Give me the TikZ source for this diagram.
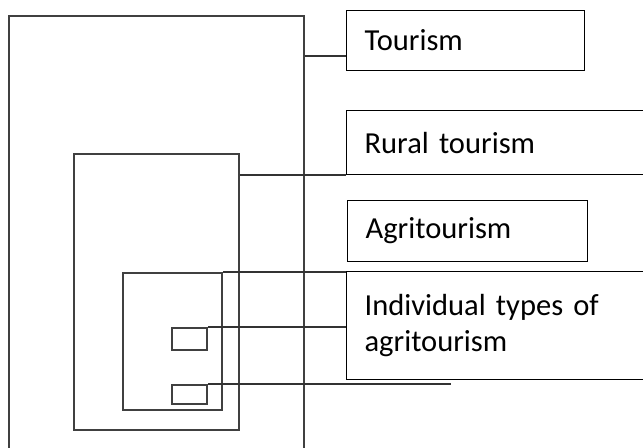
\documentclass[tikz,border=0pt]{standalone}
\usepackage{fontspec}
\setmainfont{Carlito}
\usetikzlibrary{fit,calc}
\newcommand{\boxfont}{\fontsize{22.9}{27}\selectfont\spaceskip=0.17em plus 0.05em\relax}

\begin{document}
\begin{tikzpicture}[x=0.75pt,y=-0.75pt]
	% `frame' is used for the nested rectangles.
	% `labelbox' is used for the text boxes on the right.
	\tikzstyle{frame} = [draw=black!75,line width=1.2pt,inner sep=0pt]
	\tikzstyle{labelbox} = [draw,line width=0.9pt,anchor=north west,inner xsep=13.5pt,inner ysep=0pt,align=left,minimum height=45pt,font=\boxfont]
	\tikzstyle{link} = [draw=black!80,line width=1.3pt]
	%
	\clip (0,0) rectangle (643,447);
	% Nested rectangles.
	\node[frame,fit={(9,16) (304,470)}] (outer) {};
	\node[frame,fit={(74,154) (239,430)}] (rural frame) {};
	\node[frame,fit={(123,273) (222,410)}] (agri frame) {};
	\node[frame,fit={(172,328) (207,350)}] (type1) {};
	\node[frame,fit={(172,385) (207,404)}] (type2) {};
	% Text boxes.
	\node[labelbox,text width=151.5pt] (tourism) at (346,10) {Tourism};
	\node[labelbox,text width=205.5pt,minimum height=48pt] (rural) at (346,110) {Rural tourism};
	\node[labelbox,text width=153pt,minimum height=45.75pt] (agri) at (347,200) {Agritourism};
	\node[labelbox,text width=205.5pt,minimum height=81pt] (types) at (346,271) {Individual types of\\agritourism};
	\coordinate (tail) at (451,385);
	% Lines.
	\coordinate (tourism in) at ($(tourism.south west)!0.25!(tourism.north west)$);
	\draw[link] (outer.east |- tourism in) -- (tourism in);
	\draw[link] (rural frame.east |- rural.south west) -- (rural.south west);
	\draw[link] (agri frame.north east) -- (agri frame.north east -| types.west);
	\draw[link] (type1.north east) -- (type1.north east -| types.west);
	\draw[link] (type2.north east) -- (type2.north east -| tail);
\end{tikzpicture}
\end{document}
